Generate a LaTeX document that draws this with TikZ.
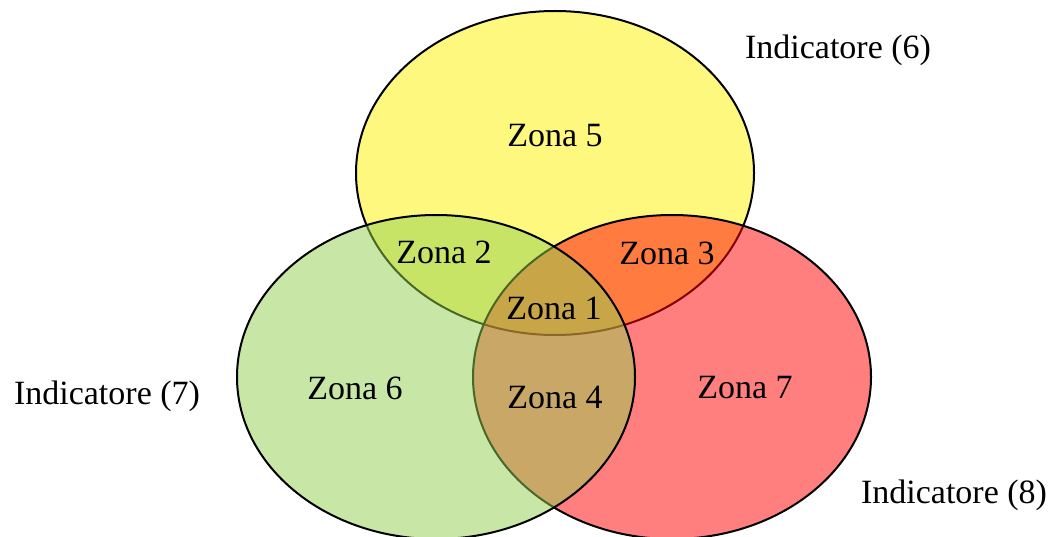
\documentclass[tikz,border=0pt]{standalone}
\usepackage{fontspec}
\setmainfont{Liberation Serif}
\usetikzlibrary{shapes.geometric}
\definecolor{setgreen}{RGB}{146,208,80}

\begin{document}
\begin{tikzpicture}
  [x=1pt,y=-1pt,
   set/.style={ellipse,draw=black,line width=2pt,fill opacity=0.5,
     minimum width=398pt,minimum height=324pt,inner sep=0pt},
   zone/.style={anchor=base,inner sep=0pt,font=\fontsize{34}{40}\selectfont}]
  \useasboundingbox (0,0) rectangle (1051,537);

  % the three sets: yellow below, then red, then green
  \node[set,fill=yellow] (s6) at (555,173) {};
  \node[set,fill=red] (s8) at (672,377) {};
  \node[set,fill=setgreen] (s7) at (436,377) {};

  \node[zone] (z5) at (555,147) {Zona 5};
  \node[zone] (z2) at (444,263) {Zona 2};
  \node[zone] (z3) at (667,264) {Zona 3};
  \node[zone] (z1) at (554,319) {Zona 1};
  \node[zone] (z6) at (355,399) {Zona 6};
  \node[zone] (z4) at (555,408) {Zona 4};
  \node[zone] (z7) at (745,398) {Zona 7};

  \node[zone] (i6) at (838,59) {Indicatore (6)};
  \node[zone] (i7) at (107,404) {Indicatore (7)};
  \node[zone] (i8) at (954,503) {Indicatore (8)};

\end{tikzpicture}
\end{document}
